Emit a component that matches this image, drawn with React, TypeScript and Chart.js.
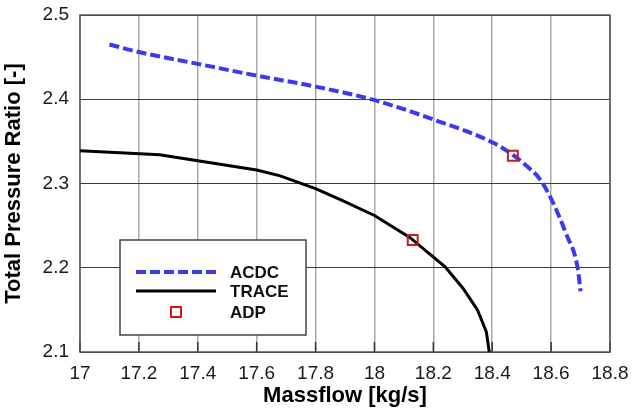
import React, { useEffect, useRef } from "react";
import { Chart, registerables } from "chart.js";

Chart.register(...registerables);

// ---- Data ----
const acdcMassflow = [17.10, 17.20, 17.40, 17.60, 17.80, 18.00, 18.20, 18.40, 18.47, 18.52, 18.56, 18.60, 18.65, 18.69, 18.70];
const acdcRatio = [2.465, 2.456, 2.442, 2.428, 2.415, 2.399, 2.376, 2.349, 2.334, 2.320, 2.306, 2.282, 2.241, 2.200, 2.172];

const traceMassflow = [17.00, 17.27, 17.40, 17.60, 17.68, 17.80, 17.89, 18.00, 18.12, 18.24, 18.30, 18.35, 18.38, 18.39];
const traceRatio = [2.339, 2.334, 2.327, 2.316, 2.309, 2.294, 2.280, 2.262, 2.236, 2.201, 2.176, 2.150, 2.124, 2.100];

const adpMassflow = [18.47, 18.13];
const adpRatio = [2.333, 2.233];

const xTickValues = [17, 17.2, 17.4, 17.6, 17.8, 18, 18.2, 18.4, 18.6, 18.8];
const yTickValues = [2.1, 2.2, 2.3, 2.4, 2.5];

const seriesLabels = ["ACDC", "TRACE", "ADP"];
const xTitle = "Massflow [kg/s]";
const yTitle = "Total Pressure Ratio [-]";

const toPoints = (xs: number[], ys: number[]) => xs.map((x, i) => ({ x, y: ys[i] }));
const fmt = (v: number) => String(+Number(v).toFixed(1));

const BLUE = "#3a3af0";
const RED = "#cc1a1a";
const FONT = "'Liberation Sans', Arial, Helvetica, sans-serif";

const framePlugin = {
  id: "frame",
  beforeDatasetsDraw(chart: any) {
    const { ctx, chartArea, scales } = chart;
    ctx.save();
    // inner tick marks on the bottom axis
    ctx.strokeStyle = "#333";
    ctx.lineWidth = 1.5;
    xTickValues.forEach((v) => {
      const px = scales.x.getPixelForValue(v);
      ctx.beginPath();
      ctx.moveTo(px, chartArea.bottom);
      ctx.lineTo(px, chartArea.bottom - 10);
      ctx.stroke();
    });
    ctx.strokeStyle = "#555";
    ctx.lineWidth = 1.5;
    ctx.strokeRect(chartArea.left, chartArea.top, chartArea.right - chartArea.left, chartArea.bottom - chartArea.top);
    ctx.restore();
  },
};

const legendPlugin = {
  id: "boxLegend",
  afterDraw(chart: any) {
    const { ctx, chartArea } = chart;
    const ds = chart.data.datasets;
    const x0 = chartArea.left + 40;
    const y0 = chartArea.top + 225;
    const w = 186;
    const h = 95;
    ctx.save();
    ctx.fillStyle = "#ffffff";
    ctx.fillRect(x0, y0, w, h);
    ctx.strokeStyle = "#444";
    ctx.lineWidth = 1.5;
    ctx.strokeRect(x0, y0, w, h);

    const rows = [32, 51, 72];
    const order = [1, 2, 0]; // dataset indices: ACDC, TRACE, ADP
    ctx.font = `bold 17px ${FONT}`;
    ctx.textBaseline = "middle";
    ctx.textAlign = "left";
    order.forEach((di, r) => {
      const d = ds[di];
      const cy = y0 + rows[r];
      if (d.showLine !== false) {
        ctx.beginPath();
        ctx.setLineDash(d.borderDash || []);
        ctx.strokeStyle = d.borderColor;
        ctx.lineWidth = d.borderWidth;
        ctx.moveTo(x0 + 16, cy);
        ctx.lineTo(x0 + 96, cy);
        ctx.stroke();
        ctx.setLineDash([]);
      } else {
        ctx.strokeStyle = d.borderColor;
        ctx.lineWidth = d.borderWidth;
        ctx.strokeRect(x0 + 51, cy - 5, 10, 10);
      }
      ctx.fillStyle = "#111";
      ctx.fillText(d.label, x0 + 110, cy + 1);
    });
    ctx.restore();
  },
};

export default function App() {
  const ref = useRef<HTMLCanvasElement | null>(null);

  useEffect(() => {
    if (!ref.current) return;
    const chart = new Chart(ref.current, {
      type: "scatter",
      data: {
        datasets: [
          {
            label: seriesLabels[2],
            data: toPoints(adpMassflow, adpRatio),
            showLine: false,
            pointStyle: "rect",
            pointRadius: 7,
            pointHoverRadius: 7,
            borderColor: RED,
            backgroundColor: "rgba(0,0,0,0)",
            borderWidth: 2,
            order: 0,
          },
          {
            label: seriesLabels[0],
            data: toPoints(acdcMassflow, acdcRatio),
            showLine: true,
            borderColor: BLUE,
            backgroundColor: BLUE,
            borderWidth: 4,
            borderDash: [10, 4],
            pointRadius: 0,
            cubicInterpolationMode: "monotone",
            order: 1,
          },
          {
            label: seriesLabels[1],
            data: toPoints(traceMassflow, traceRatio),
            showLine: true,
            borderColor: "#000000",
            backgroundColor: "#000000",
            borderWidth: 3,
            pointRadius: 0,
            order: 2,
          },
        ],
      } as any,
      options: {
        animation: false,
        responsive: false,
        maintainAspectRatio: false,
        events: [],
        layout: { padding: { left: 0, right: 24, top: 15, bottom: 0 } },
        plugins: {
          legend: { display: false },
          tooltip: { enabled: false },
        },
        scales: {
          x: {
            type: "linear",
            min: 17,
            max: 18.8,
            afterBuildTicks: (s: any) => {
              s.ticks = xTickValues.map((v) => ({ value: v }));
            },
            afterFit: (s: any) => {
              s.height = 60;
              s.paddingLeft = 0;
              s.paddingRight = 0;
            },
            ticks: {
              callback: (v: any) => fmt(v),
              font: { family: FONT, size: 19 },
              color: "#1a1a1a",
              padding: 10,
              maxRotation: 0,
              autoSkip: false,
            },
            grid: { color: "#a8a8a8", lineWidth: 1.5, drawTicks: false },
            border: { display: false },
            title: {
              display: true,
              text: xTitle,
              font: { family: FONT, size: 22, weight: "bold" },
              color: "#000",
              padding: { top: 0, bottom: 3 },
            },
          },
          y: {
            type: "linear",
            min: 2.1,
            max: 2.5,
            afterBuildTicks: (s: any) => {
              s.ticks = yTickValues.map((v) => ({ value: v }));
            },
            afterFit: (s: any) => {
              s.width = 80;
              s.paddingTop = 0;
              s.paddingBottom = 0;
            },
            ticks: {
              callback: (v: any) => fmt(v),
              font: { family: FONT, size: 19 },
              color: "#1a1a1a",
              padding: 11,
              autoSkip: false,
            },
            grid: { color: "#3a3a3a", lineWidth: 1, drawTicks: false },
            border: { display: false },
            title: {
              display: true,
              text: yTitle,
              font: { family: FONT, size: 22, weight: "bold" },
              color: "#000",
              padding: { top: 1, bottom: 0 },
            },
          },
        },
      } as any,
      plugins: [framePlugin, legendPlugin],
    });
    return () => chart.destroy();
  }, []);

  return (
    <div style={{ position: "fixed", left: 0, top: 0, width: 634, height: 412, background: "#fff" }}>
      <canvas ref={ref} width={634} height={412} style={{ display: "block", width: 634, height: 412 }} />
    </div>
  );
}
